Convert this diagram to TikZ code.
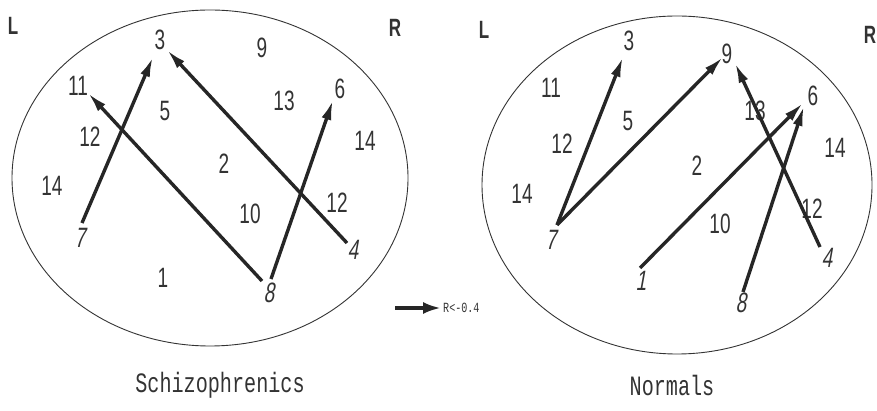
\documentclass[tikz,border=0pt]{standalone}
\usepackage{fontspec}
\setmainfont{Liberation Sans}[FakeStretch=0.68]
\newfontfamily\slfont{Liberation Sans}[FakeStretch=0.68,FakeSlant=0.18]
\newfontfamily\capfont{Liberation Mono}[FakeStretch=0.72]
\usetikzlibrary{arrows.meta}
\definecolor{ink}{HTML}{333333}
\tikzset{
  lbl/.style={inner sep=0pt, text=ink, font=\fontsize{28}{28}\selectfont},
  tl/.style={inner sep=0pt, text=ink, font=\fontsize{28}{28}\selectfont\slfont},
  side/.style={inner sep=0pt, text=ink, font=\fontsize{25}{25}\selectfont\bfseries},
  captxt/.style={inner sep=0pt, text=ink, font=\fontsize{28}{28}\selectfont\capfont},
  oval/.style={draw=ink, line width=0.9pt},
  arr/.style={draw=black!85, line width=3.4pt, -{Latex[length=20pt,width=10pt]}},
}
\begin{document}
\begin{tikzpicture}[x=1pt,y=-1pt]
\useasboundingbox (0,0) rectangle (877,411);
% ---------- left panel ----------
\draw[oval] (210,178) ellipse [x radius=198, y radius=168];
\node[side] (LL) at (13,26) {L};
\node[side] (LR) at (395,28) {R};
\node[lbl] (l3) at (160,40) {3};
\node[lbl] (l9) at (262,48) {9};
\node[lbl] (l11) at (78,86) {11};
\node[lbl] (l6) at (340,89) {6};
\node[lbl] (l13) at (284,101) {13};
\node[lbl] (l5) at (165,111) {5};
\node[lbl] (l12a) at (90,137) {12};
\node[lbl] (l14b) at (365,141) {14};
\node[lbl] (l2) at (224,164) {2};
\node[lbl] (l14a) at (52,186) {14};
\node[lbl] (l10) at (250,214) {10};
\node[lbl] (l12b) at (337,203) {12};
\node[tl] (l7) at (80,238) {7};
\node[tl] (l4) at (353,250) {4};
\node[lbl] (l1) at (163,278) {1};
\node[tl] (l8) at (269,293) {8};
\coordinate (l7t) at (82,223);
\coordinate (l3h) at (153,57);
\coordinate (l8t) at (262,281);
\coordinate (l11h) at (88,93);
\coordinate (l4t) at (347,243);
\coordinate (l3h2) at (167,50);
\coordinate (l8t2) at (271,279);
\coordinate (l6h) at (333,100);
\draw[arr] (l7t) -- (l3h);
\draw[arr] (l8t) -- (l11h);
\draw[arr] (l4t) -- (l3h2);
\draw[arr] (l8t2) -- (l6h);
% legend
\coordinate (ga) at (395,308);
\coordinate (gb) at (441,308);
\draw[draw=black!85, line width=3.4pt, -{Latex[length=18pt,width=12pt]}] (ga) -- (gb);
\node[inner sep=0pt, anchor=west, text=ink, font=\fontsize{14}{14}\selectfont\capfont] (leg) at (443,308) {R<-0.4};
% ---------- right panel ----------
\draw[oval] (677,185) ellipse [x radius=195, y radius=169];
\node[side] (RL) at (484,30) {L};
\node[side] (RR) at (870,35) {R};
\node[lbl] (r3) at (629,41) {3};
\node[lbl] (r9) at (727,54) {9};
\node[lbl] (r11) at (551,88) {11};
\node[lbl] (r6) at (813,96) {6};
\node[lbl] (r5) at (628,121) {5};
\node[lbl] (r13) at (755,111) {13};
\node[lbl] (r12a) at (562,144) {12};
\node[lbl] (r14b) at (835,148) {14};
\node[lbl] (r2) at (697,166) {2};
\node[lbl] (r14a) at (522,194) {14};
\node[lbl] (r10) at (720,224) {10};
\node[lbl] (r12b) at (812,209) {12};
\node[tl] (r7) at (551,240) {7};
\node[tl] (r4) at (827,258) {4};
\node[tl] (r1) at (641,281) {1};
\node[tl] (r8) at (741,303) {8};
\coordinate (r7t) at (557,225);
\coordinate (r3h) at (623,57);
\coordinate (r9h) at (723,57);
\coordinate (r1t) at (640,268);
\coordinate (r6h) at (803,103);
\coordinate (r8t) at (743,292);
\coordinate (r6h2) at (804,106);
\coordinate (r4t) at (820,247);
\coordinate (r9h2) at (735,63);
\draw[arr] (r7t) -- (r3h);
\draw[arr] (r7t) -- (r9h);
\draw[arr] (r1t) -- (r6h);
\draw[arr] (r8t) -- (r6h2);
\draw[arr] (r4t) -- (r9h2);
% captions
\node[captxt] (c1) at (220,385) {Schizophrenics};
\node[captxt] (c2) at (672,385) {Normals};
\end{tikzpicture}
\end{document}
